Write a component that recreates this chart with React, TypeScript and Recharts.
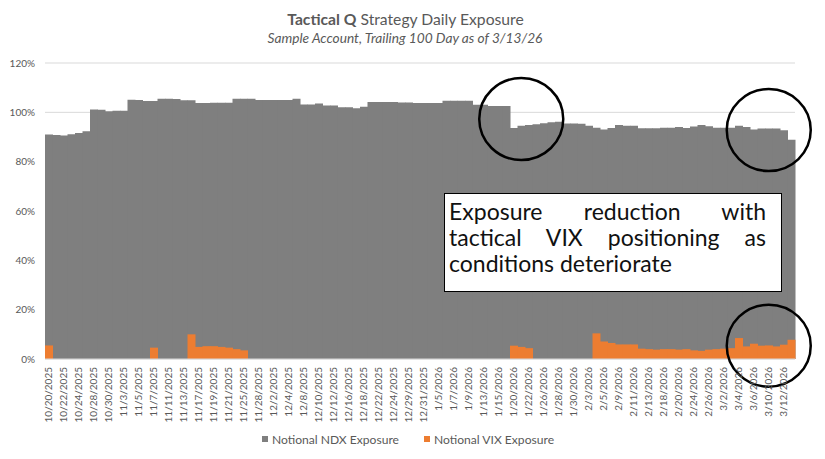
import React from 'react';
import { BarChart, Bar, XAxis, YAxis, CartesianGrid, Legend, ReferenceDot } from 'recharts';

const dates = [
  '10/20/2025', '10/21/2025', '10/22/2025', '10/23/2025', '10/24/2025', '10/27/2025', '10/28/2025', '10/29/2025', '10/30/2025', '10/31/2025',
  '11/3/2025', '11/4/2025', '11/5/2025', '11/6/2025', '11/7/2025', '11/10/2025', '11/11/2025', '11/12/2025', '11/13/2025', '11/14/2025',
  '11/17/2025', '11/18/2025', '11/19/2025', '11/20/2025', '11/21/2025', '11/24/2025', '11/25/2025', '11/26/2025', '11/28/2025',
  '12/1/2025', '12/2/2025', '12/3/2025', '12/4/2025', '12/5/2025', '12/8/2025', '12/9/2025', '12/10/2025', '12/11/2025', '12/12/2025',
  '12/15/2025', '12/16/2025', '12/17/2025', '12/18/2025', '12/19/2025', '12/22/2025', '12/23/2025', '12/24/2025', '12/26/2025',
  '12/29/2025', '12/30/2025', '12/31/2025',
  '1/2/2026', '1/5/2026', '1/6/2026', '1/7/2026', '1/8/2026', '1/9/2026', '1/12/2026', '1/13/2026', '1/14/2026', '1/15/2026',
  '1/16/2026', '1/20/2026', '1/21/2026', '1/22/2026', '1/23/2026', '1/26/2026', '1/27/2026', '1/28/2026', '1/29/2026', '1/30/2026',
  '2/2/2026', '2/3/2026', '2/4/2026', '2/5/2026', '2/6/2026', '2/9/2026', '2/10/2026', '2/11/2026', '2/12/2026', '2/13/2026',
  '2/17/2026', '2/18/2026', '2/19/2026', '2/20/2026', '2/23/2026', '2/24/2026', '2/25/2026', '2/26/2026', '2/27/2026',
  '3/2/2026', '3/3/2026', '3/4/2026', '3/5/2026', '3/6/2026', '3/9/2026', '3/10/2026', '3/11/2026', '3/12/2026', '3/13/2026',
];

const ndxExposure = [
  91.0, 90.8, 90.6, 91.1, 91.6, 92.3, 101.1, 101.0, 100.4, 100.6,
  100.6, 105.1, 105.0, 104.6, 104.6, 105.5, 105.5, 105.4, 104.9, 104.9,
  103.8, 103.8, 103.9, 103.9, 103.9, 105.5, 105.5, 105.5, 105.0,
  105.0, 105.0, 105.0, 105.0, 105.5, 103.2, 103.2, 103.6, 102.8, 102.8,
  102.1, 102.1, 101.7, 102.3, 104.2, 104.2, 104.2, 104.2, 104.0,
  104.0, 103.8, 103.8,
  103.8, 103.8, 104.7, 104.7, 104.7, 104.7, 103.1, 103.1, 102.6, 102.6,
  102.6, 93.6, 94.6, 94.9, 95.2, 95.6, 96.0, 96.2, 95.5, 95.5,
  95.4, 94.6, 93.8, 93.0, 93.6, 94.9, 94.6, 94.6, 93.5, 93.5,
  93.5, 93.8, 93.8, 94.1, 93.6, 94.3, 94.9, 94.4, 93.8,
  93.8, 93.8, 94.6, 94.1, 93.0, 93.4, 93.4, 93.4, 92.7, 88.9,
];

const vixExposure = [
  5.5, 0, 0, 0, 0, 0, 0, 0, 0, 0,
  0, 0, 0, 0, 4.6, 0, 0, 0, 0, 10.0,
  4.9, 5.2, 5.2, 4.9, 4.6, 4.0, 3.5, 0, 0,
  0, 0, 0, 0, 0, 0, 0, 0, 0, 0,
  0, 0, 0, 0, 0, 0, 0, 0, 0,
  0, 0, 0,
  0, 0, 0, 0, 0, 0, 0, 0, 0, 0,
  0, 5.4, 4.9, 4.4, 0, 0, 0, 0, 0, 0,
  0, 0, 10.4, 7.1, 6.5, 5.9, 5.9, 5.9, 4.2, 4.0,
  3.8, 4.0, 4.0, 3.8, 4.0, 3.5, 3.3, 3.8, 4.0,
  4.2, 4.4, 8.5, 5.1, 6.2, 5.4, 5.5, 5.1, 5.8, 7.8,
];

const yTicks = [0, 20, 40, 60, 80, 100, 120];

const seriesNames = ['Notional NDX Exposure', 'Notional VIX Exposure'];
const seriesColors = ['#7f7f7f', '#ed7d31'];

// Annotation circles, anchored to data coordinates
const circleDates = ['1/21/2026', '3/10/2026', '3/10/2026'];
const circleValues = [97.3, 92.8, 5.4];

const titleBold = 'Tactical Q';
const titleRest = ' Strategy Daily Exposure';
const subtitle = 'Sample Account, Trailing 100 Day as of 3/13/26';
const noteLines = ['Exposure reduction with', 'tactical VIX positioning as', 'conditions deteriorate'];

const data = dates.map((d, i) => ({ date: d, ndx: ndxExposure[i], vix: vixExposure[i] }));

const FONT = 'Lato, "Open Sans", sans-serif';

const XTick = (props: any) => {
  const { x, y, payload } = props;
  return (
    <text
      x={x}
      y={y}
      transform={`rotate(-90, ${x}, ${y})`}
      textAnchor="end"
      dy="0.35em"
      fontSize={10}
      fill="#595959"
      fontFamily={FONT}
    >
      {payload.value}
    </text>
  );
};

const LegendContent = () => (
  <div
    style={{
      display: 'flex',
      justifyContent: 'center',
      alignItems: 'center',
      height: 24,
      fontFamily: FONT,
      fontSize: 12.1,
      color: '#595959',
      paddingLeft: 21,
    }}
  >
    {seriesNames.map((n, i) => (
      <div key={n} style={{ display: 'flex', alignItems: 'center', marginRight: i === 0 ? 25 : 0 }}>
        <span style={{ display: 'inline-block', width: 6, height: 6, background: seriesColors[i], marginRight: 4 }} />
        {n}
      </div>
    ))}
  </div>
);

const Ellipse = (p: any) => (
  <ellipse cx={p.cx} cy={p.cy} rx={42} ry={41} fill="none" stroke="#000" strokeWidth={2.5} />
);

export default function App() {
  return (
    <div style={{ position: 'absolute', left: 0, top: 0, width: 825, height: 459, background: '#fff', fontFamily: FONT }}>
      <div style={{ position: 'absolute', left: 0, width: 811, top: 9, textAlign: 'center', fontSize: 15.7, color: '#595959', lineHeight: '20px' }}>
        <span style={{ fontWeight: 700 }}>{titleBold}</span>
        {titleRest}
      </div>
      <div style={{ position: 'absolute', left: 0, width: 810, top: 29, textAlign: 'center', fontSize: 13.7, fontStyle: 'italic', color: '#595959', lineHeight: '18px' }}>
        {subtitle}
      </div>
      <BarChart
        width={825}
        height={459}
        data={data}
        margin={{ top: 63, right: 30, bottom: 8, left: 0 }}
        barCategoryGap={0}
        barGap={0}
      >
        <CartesianGrid vertical={false} stroke="#d9d9d9" />
        <XAxis
          xAxisId="main"
          dataKey="date"
          interval={1}
          tick={<XTick />}
          tickLine={false}
          axisLine={{ stroke: '#d9d9d9' }}
          height={68}
        />
        <XAxis xAxisId="overlay" dataKey="date" hide />
        <YAxis
          domain={[0, 120]}
          ticks={yTicks}
          tickFormatter={(v: number) => `${v}%`}
          tick={{ fontSize: 10, fill: '#595959', fontFamily: FONT }}
          tickLine={false}
          tickMargin={4}
          axisLine={false}
          width={45}
        />
        <Legend verticalAlign="bottom" content={<LegendContent />} />
        <Bar xAxisId="main" dataKey="ndx" name={seriesNames[0]} fill={seriesColors[0]} isAnimationActive={false} />
        <Bar xAxisId="overlay" dataKey="vix" name={seriesNames[1]} fill={seriesColors[1]} isAnimationActive={false} />
        {circleDates.map((d, i) => (
          <ReferenceDot
            key={i}
            xAxisId="main"
            x={d}
            y={circleValues[i]}
            r={42}
            ifOverflow="visible"
            shape={<Ellipse />}
          />
        ))}
      </BarChart>
      <div
        style={{
          position: 'absolute',
          left: 444,
          top: 193,
          width: 338,
          height: 99,
          boxSizing: 'border-box',
          border: '1.5px solid #000',
          background: '#fff',
          padding: '3.5px 15px 0 4px',
          fontSize: 23,
          lineHeight: '26px',
          color: '#111',
        }}
      >
        {noteLines.map((l, i) => (
          <div
            key={i}
            style={{
              textAlign: 'justify',
              textAlignLast: i < noteLines.length - 1 ? 'justify' : 'left',
              whiteSpace: 'nowrap',
              overflow: 'visible',
            }}
          >
            {l}
          </div>
        ))}
      </div>
    </div>
  );
}
